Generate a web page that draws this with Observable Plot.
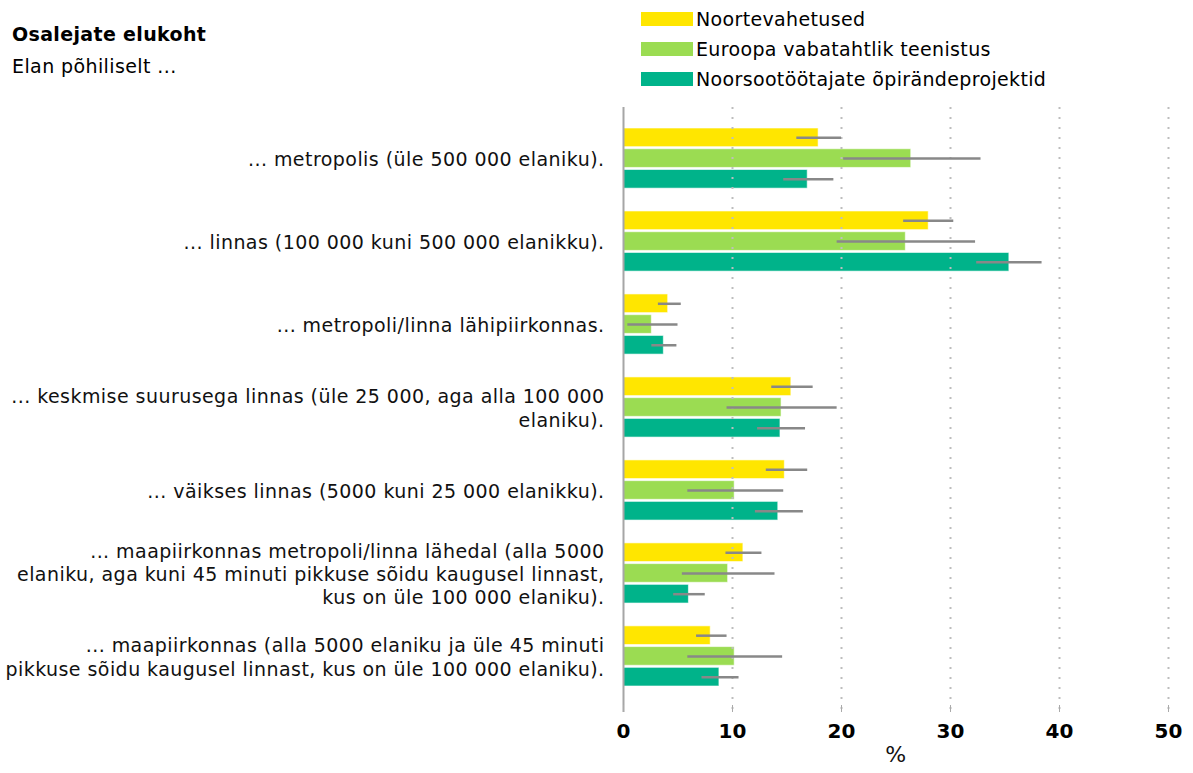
<!DOCTYPE html>
<html><head><meta charset="utf-8">
<script src="https://cdn.jsdelivr.net/npm/d3@7"></script>
<script src="https://cdn.jsdelivr.net/npm/@observablehq/plot@0.6"></script>
<style>
body{margin:0;font-family:"DejaVu Sans",Verdana,sans-serif;background:#fff;color:#000}
#header{position:relative;height:100px;width:1193px}
.title{position:absolute;left:12px;top:23px;font-weight:bold;font-size:19px;letter-spacing:0.35px}
.subtitle{position:absolute;left:12px;top:55px;font-size:19px;letter-spacing:0.4px}
.legend{position:absolute;left:641px;top:4px}
.item{display:flex;align-items:center;height:30px;font-size:19px;letter-spacing:0.35px}
.sw{width:52px;height:14px;margin-right:3px}
#chart svg [aria-label="x-axis tick label"] text{font-weight:bold}
#chart svg g[aria-label="text"] text{letter-spacing:0.45px}
</style></head><body>
<div id="header">
  <div class="title">Osalejate elukoht</div>
  <div class="subtitle">Elan põhiliselt ...</div>
  <div class="legend" id="legend"></div>
</div>
<div id="chart"></div>
<script>
const categories = [
  "... metropolis (üle 500 000 elaniku).",
  "... linnas (100 000 kuni 500 000 elanikku).",
  "... metropoli/linna lähipiirkonnas.",
  "... keskmise suurusega linnas (üle 25 000, aga alla 100 000\nelaniku).",
  "... väikses linnas (5000 kuni 25 000 elanikku).",
  "... maapiirkonnas metropoli/linna lähedal (alla 5000\nelaniku, aga kuni 45 minuti pikkuse sõidu kaugusel linnast,\nkus on üle 100 000 elaniku).",
  "... maapiirkonnas (alla 5000 elaniku ja üle 45 minuti\npikkuse sõidu kaugusel linnast, kus on üle 100 000 elaniku)."
];
const series = ["Noortevahetused", "Euroopa vabatahtlik teenistus", "Noorsootöötajate õpirändeprojektid"];
const colors = ["#FFE600", "#9BDC52", "#00B38A"];

const noortevahetused     = [17.9, 28.0, 4.1, 15.4, 14.8, 11.0, 8.0];
const noortevahetusedLow  = [15.9, 25.7, 3.2, 13.6, 13.1, 9.4, 6.7];
const noortevahetusedHigh = [20.0, 30.3, 5.3, 17.4, 16.9, 12.7, 9.5];

const vabatahtlik     = [26.4, 25.9, 2.6, 14.5, 10.2, 9.6, 10.2];
const vabatahtlikLow  = [20.2, 19.6, 0.4, 9.5, 5.9, 5.4, 5.9];
const vabatahtlikHigh = [32.8, 32.3, 5.0, 19.6, 14.7, 13.9, 14.6];

const noorsoo     = [16.9, 35.4, 3.7, 14.4, 14.2, 6.0, 8.8];
const noorsooLow  = [14.7, 32.4, 2.6, 12.3, 12.1, 4.6, 7.2];
const noorsooHigh = [19.3, 38.4, 4.9, 16.7, 16.5, 7.5, 10.6];

const xTicks = [0, 10, 20, 30, 40, 50];

const values = [noortevahetused, vabatahtlik, noorsoo];
const lows = [noortevahetusedLow, vabatahtlikLow, noorsooLow];
const highs = [noortevahetusedHigh, vabatahtlikHigh, noorsooHigh];

const rows = [];
const keys = [];
categories.forEach((c, i) => {
  series.forEach((s, j) => {
    const key = i + "-" + j;
    keys.push(key);
    rows.push({key, series: s, value: values[j][i], low: lows[j][i], high: highs[j][i]});
  });
  if (i < categories.length - 1) keys.push(i + "-gap");
});

// legend
const lg = document.getElementById("legend");
series.forEach((s, j) => {
  const it = document.createElement("div"); it.className = "item";
  const sw = document.createElement("div"); sw.className = "sw"; sw.style.background = colors[j];
  const tx = document.createElement("span"); tx.textContent = s;
  it.appendChild(sw); it.appendChild(tx); lg.appendChild(it);
});

const chart = Plot.plot({
  width: 1193, height: 673,
  marginTop: 7, marginBottom: 61, marginLeft: 623, marginRight: 25,
  style: {fontFamily: "DejaVu Sans, Verdana, sans-serif", background: "white", color: "#000"},
  x: {domain: [0, 50], axis: null},
  y: {domain: keys, axis: null, round: false, paddingInner: 0.1, paddingOuter: 0, insetTop: 21, insetBottom: 26},
  color: {domain: series, range: colors},
  marks: [
    Plot.barX(rows, {x: "value", y: "key", fill: "series", stroke: "white", strokeOpacity: 0.6, strokeWidth: 1}),
    Plot.ruleX(xTicks.filter(d => d > 0), {stroke: "#bdbdbd", strokeWidth: 2, strokeDasharray: "2,8"}),
    Plot.ruleX([0], {stroke: "#a6a6a6", strokeWidth: 2}),
    Plot.ruleY(rows, {y: "key", x1: "low", x2: "high", stroke: "#888", strokeWidth: 2.5}),
    Plot.text(categories, {y: (d, i) => i + "-1", frameAnchor: "left", dx: -19, textAnchor: "end", lineAnchor: "middle", lineHeight: 1.23, fontSize: 19, fill: "#111"}),
    Plot.axisX(xTicks, {tickSize: -7, tickPadding: 18, fontSize: 20, fontWeight: "bold", stroke: "#aaa", fill: "#000", label: null}),
    Plot.text(["%"], {frameAnchor: "bottom", dy: 49, fontSize: 22, fill: "#111"})
  ]
});
document.getElementById("chart").appendChild(chart);
</script>
</body></html>
